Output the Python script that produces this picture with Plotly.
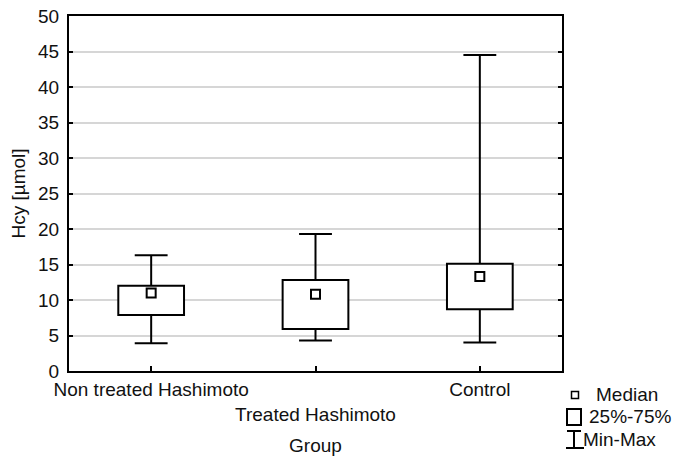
import plotly.graph_objects as go

groups = ["Non treated Hashimoto", "Treated Hashimoto", "Control"]
tick_labels = ["Non treated Hashimoto", "<br>Treated Hashimoto", "Control"]
minimum = [3.9, 4.3, 4.0]
q1 = [7.9, 5.9, 8.7]
median = [11.0, 10.8, 13.3]
q3 = [12.0, 12.8, 15.1]
maximum = [16.3, 19.3, 44.5]
y_ticks = [0, 5, 10, 15, 20, 25, 30, 35, 40, 45, 50]

FONT = "Liberation Sans, Arial, sans-serif"
FS = 19
W, H = 690, 462
OFF = 8  # page body margin offset
# target screen positions of the plot area
SL, SR, ST, SB = 69, 562, 16, 371
L, T = SL - OFF, ST - OFF
R, B = W - (SR - OFF), H - (SB - OFF)
xs = list(range(len(groups)))
cap = 0.1

fig = go.Figure()

# boxes (25%-75%)
fig.add_trace(go.Bar(
    x=xs, base=q1, y=[b - a for a, b in zip(q1, q3)], width=0.4,
    marker=dict(color="white", line=dict(color="black", width=2)),
    showlegend=False, hoverinfo="skip"))

# whiskers + caps
wx, wy = [], []
for i in xs:
    wx += [i - cap, i + cap, None, i, i, None, i, i, None, i - cap, i + cap, None]
    wy += [maximum[i], maximum[i], None, maximum[i], q3[i], None,
           q1[i], minimum[i], None, minimum[i], minimum[i], None]
fig.add_trace(go.Scatter(x=wx, y=wy, mode="lines",
                         line=dict(color="black", width=2),
                         showlegend=False, hoverinfo="skip"))

# medians
fig.add_trace(go.Scatter(x=xs, y=median, mode="markers",
                         marker=dict(symbol="square-open", size=9, color="black",
                                     line=dict(width=2, color="black")),
                         showlegend=False))

# legend drawn manually (screen pixel -> paper)
def px(x):
    return (x - SL) / (SR - SL)

def py(y):
    return (SB - y) / (SB - ST)

shapes = [
    dict(type="rect", xref="paper", yref="paper", x0=px(571.5), x1=px(578.5),
         y0=py(398.5), y1=py(391.5), line=dict(color="black", width=1.5)),
    dict(type="rect", xref="paper", yref="paper", x0=px(567), x1=px(581),
         y0=py(425), y1=py(409), line=dict(color="black", width=2)),
    dict(type="line", xref="paper", yref="paper", x0=px(567), x1=px(581),
         y0=py(431), y1=py(431), line=dict(color="black", width=2)),
    dict(type="line", xref="paper", yref="paper", x0=px(574), x1=px(574),
         y0=py(431), y1=py(448), line=dict(color="black", width=2)),
    dict(type="line", xref="paper", yref="paper", x0=px(566), x1=px(584),
         y0=py(448), y1=py(448), line=dict(color="black", width=2)),
]
annotations = [
    dict(text="Median", x=px(594), y=py(395), xref="paper", yref="paper",
         xanchor="left", yanchor="middle", showarrow=False),
    dict(text="25%-75%", x=px(587), y=py(416), xref="paper", yref="paper",
         xanchor="left", yanchor="middle", showarrow=False),
    dict(text="Min-Max", x=px(581), y=py(439), xref="paper", yref="paper",
         xanchor="left", yanchor="middle", showarrow=False),
]

fig.update_layout(
    width=W, height=H,
    margin=dict(l=L, r=R, t=T, b=B),
    paper_bgcolor="white", plot_bgcolor="white",
    font=dict(family=FONT, size=FS, color="#111"),
    showlegend=False,
    shapes=shapes, annotations=annotations,
    xaxis=dict(
        range=[-0.5, 2.5], tickmode="array", tickvals=xs, ticktext=tick_labels,
        tickangle=0, automargin=False,
        showgrid=False, zeroline=False, showline=True, linecolor="black",
        linewidth=2, mirror=True, ticks="inside", ticklen=5, tickcolor="black",
        tickwidth=1.5, tickfont=dict(size=FS),
        title=dict(text="Group", standoff=15, font=dict(size=FS)),
    ),
    yaxis=dict(
        range=[0, 50], tickvals=y_ticks, automargin=False,
        ticklabeloverflow="allow",
        showgrid=True, gridcolor="#d6d6d6", ticklabelstandoff=4,
        gridwidth=2, zeroline=False, showline=True, linecolor="black",
        linewidth=2, mirror="ticks", ticks="inside", ticklen=4, tickcolor="black",
        tickwidth=1.5, tickfont=dict(size=FS),
        title=dict(text="Hcy [µmol]", standoff=10, font=dict(size=FS)),
    ),
)

fig.write_html("out.html")
